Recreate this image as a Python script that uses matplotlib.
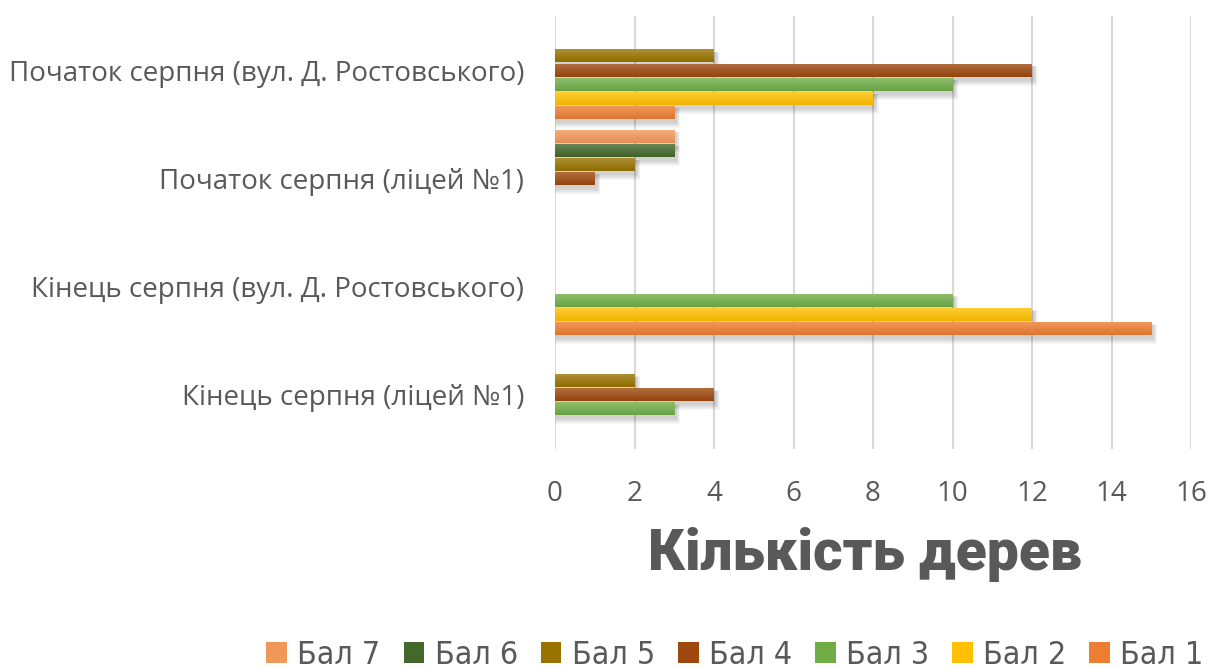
import matplotlib
matplotlib.use("Agg")
import matplotlib.pyplot as plt
import numpy as np
from matplotlib.patches import Rectangle, Patch
from matplotlib.colors import to_rgb

# chart data
categories = ["Початок серпня (вул. Д. Ростовського)",
              "Початок серпня (ліцей №1)",
              "Кінець серпня (вул. Д. Ростовського)",
              "Кінець серпня (ліцей №1)"]
series_names = ["Бал 1", "Бал 2", "Бал 3", "Бал 4", "Бал 5", "Бал 6", "Бал 7"]
bal1 = [3, 0, 15, 0]
bal2 = [8, 0, 12, 0]
bal3 = [10, 0, 10, 3]
bal4 = [12, 1, 0, 4]
bal5 = [4, 2, 0, 2]
bal6 = [0, 3, 0, 0]
bal7 = [0, 3, 0, 0]
all_series = [bal1, bal2, bal3, bal4, bal5, bal6, bal7]
colors = ["#ED7D31", "#FFC000", "#70AD47", "#9E480E", "#997300", "#43682B", "#F1975A"]
xticks = [0, 2, 4, 6, 8, 10, 12, 14, 16]

text_col = "#595959"
tick_font = ["Open Sans", "DejaVu Sans"]

fig = plt.figure(figsize=(12.11, 6.69), dpi=100)
ax = fig.add_axes([555 / 1211, 1 - 449 / 669, 636 / 1211, 433 / 669])

pitch = 0.1296
h = 0.118
px_x = 636 / 16.0      # pixels per x unit
px_y = 433 / 4.0       # pixels per y unit


def shade(c, f):
    r = np.array(to_rgb(c))
    if f > 0:
        return r + (1 - r) * f
    return r * (1 + f)


n_cat = len(categories)
for k, vals in enumerate(all_series):
    for i, v in enumerate(vals):
        if v <= 0:
            continue
        yc = (n_cat - 1 - i) + (k - 3) * pitch
        y0 = yc - h / 2
        # soft shadow
        for s in range(6):
            ex = (s + 1) * 1.0 / px_x
            ey = (s + 1) * 1.0 / px_y
            ax.add_patch(Rectangle((2 / px_x - ex * 0.4, y0 - 3 / px_y - ey),
                                   v + ex, h + ey * 1.2,
                                   facecolor="black", edgecolor="none",
                                   alpha=0.03, zorder=2))
        # vertical gradient fill
        top = shade(colors[k], 0.2)
        bot = shade(colors[k], -0.06)
        t = np.linspace(0, 1, 32)[:, None]
        grad = (top[None, :] * (1 - t) + bot[None, :] * t)[:, None, :]
        ax.imshow(grad, extent=(0, v, y0, y0 + h), origin="upper",
                  aspect="auto", interpolation="bilinear", zorder=3)

ax.set_xlim(0, 16)
ax.set_ylim(-0.5, n_cat - 0.5)
ax.set_xticks(xticks)
ax.set_yticks(range(n_cat))
ax.set_yticklabels(categories[::-1])
ax.grid(axis="x", color="#d9d9d9", linewidth=1.5, zorder=0)
ax.set_axisbelow(True)
for sp in ax.spines.values():
    sp.set_visible(False)
ax.tick_params(axis="both", length=0, colors=text_col, labelsize=20)
ax.tick_params(axis="x", pad=22)
ax.tick_params(axis="y", pad=22)
for lab in ax.get_xticklabels() + ax.get_yticklabels():
    lab.set_fontfamily(tick_font)

# axis title
fig.text(865 / 1211, 1 - 555 / 669, "Кількість дерев", ha="center", va="center",
         fontsize=41, fontweight="black", color=text_col,
         family=["Roboto", "DejaVu Sans"])

# legend, reversed order like the original
handles = []
for k in range(6, -1, -1):
    handles.append(Patch(facecolor=colors[k], edgecolor="none"))
labels = [series_names[k] for k in range(6, -1, -1)]
fig.legend(handles, labels, loc="center", ncol=7, frameon=False,
           bbox_to_anchor=(735 / 1211, 1 - 655 / 669),
           prop={"family": "DejaVu Sans", "stretch": "condensed", "size": 23},
           labelcolor=text_col, handlelength=0.65, handleheight=0.65,
           handletextpad=0.32, columnspacing=0.72)

fig.savefig("out.png", dpi=100)
